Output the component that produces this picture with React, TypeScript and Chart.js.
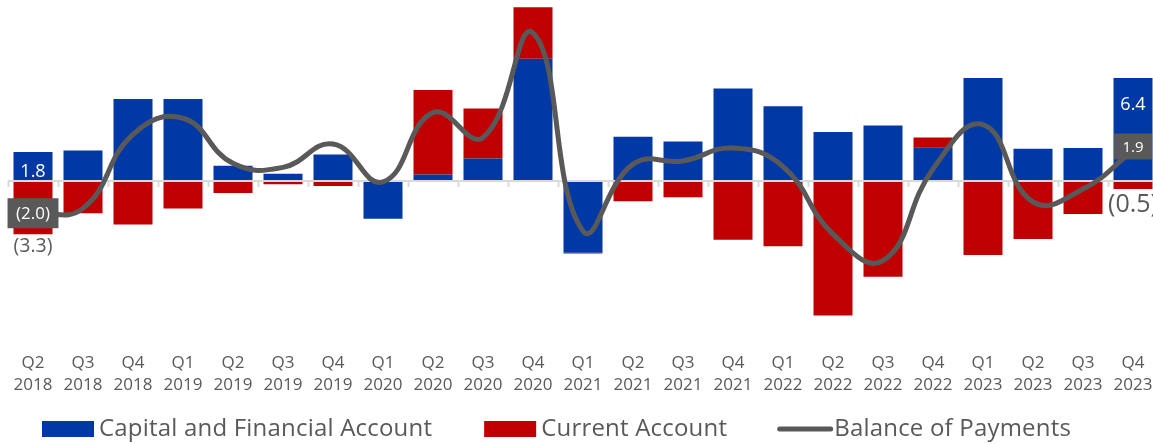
import React, { useEffect, useRef } from 'react';
import { Chart, registerables } from 'chart.js';

Chart.register(...registerables);

// ---- Data ----
const quarterLabels = ['Q2','Q3','Q4','Q1','Q2','Q3','Q4','Q1','Q2','Q3','Q4','Q1','Q2','Q3','Q4','Q1','Q2','Q3','Q4','Q1','Q2','Q3','Q4'];
const yearLabels = ['2018','2018','2018','2019','2019','2019','2019','2020','2020','2020','2020','2021','2021','2021','2021','2022','2022','2022','2022','2023','2023','2023','2023'];
const capitalFinancial = [1.8, 1.9, 5.1, 5.1, 0.95, 0.45, 1.65, -2.35, 0.4, 1.4, 7.6, -4.45, 2.75, 2.45, 5.75, 4.65, 3.05, 3.45, 2.1, 6.4, 2.0, 2.05, 6.4];
const currentAccount = [-3.3, -2.0, -2.7, -1.7, -0.75, -0.2, -0.3, 0.05, 5.25, 3.1, 3.2, -0.05, -1.25, -1.0, -3.65, -4.05, -8.35, -5.95, 0.6, -4.6, -3.6, -2.05, -0.5];
const balanceOfPayments = [-2.0, -1.7, 2.9, 3.9, 1.1, 0.85, 2.3, -0.05, 4.25, 2.7, 9.2, -3.1, 1.05, 1.25, 2.05, 0.9, -3.3, -4.95, 0.75, 3.5, -1.3, -0.5, 1.9];
const seriesNames = ['Capital and Financial Account', 'Current Account', 'Balance of Payments'];
const labelledIndices = [0, 22];

// ---- Styles ----
const BLUE = '#0039A6';
const RED = '#C00000';
const GRAY = '#595959';
const FONT = '"Open Sans", Lato, sans-serif';

const fmt = (v: number) => (v < 0 ? `(${Math.abs(v).toFixed(1)})` : v.toFixed(1));

const labelPlugin = {
  id: 'valueLabels',
  afterDatasetsDraw(chart: any) {
    const ctx = chart.ctx;
    ctx.save();
    ctx.textAlign = 'center';
    ctx.textBaseline = 'middle';
    // blue: inside end
    const m0 = chart.getDatasetMeta(0);
    const blueSizes = [18, 18];
    labelledIndices.forEach((idx, k) => {
      const el = m0.data[idx];
      const v = capitalFinancial[idx];
      const fs = blueSizes[k];
      ctx.font = `${fs}px ${FONT}`;
      ctx.fillStyle = '#ffffff';
      const cy = Math.min(el.y + 27, el.base - fs / 2);
      ctx.fillText(fmt(v), el.x, cy);
    });
    // red: outside end
    const m1 = chart.getDatasetMeta(1);
    const redSizes = [19.5, 25];
    labelledIndices.forEach((idx, k) => {
      const el = m1.data[idx];
      const v = currentAccount[idx];
      const fs = redSizes[k];
      ctx.font = `${fs}px ${FONT}`;
      ctx.fillStyle = GRAY;
      const cy = v < 0 ? el.y + fs / 2 + 3 : el.y - fs / 2 - 3;
      ctx.fillText(fmt(v), el.x, cy);
    });
    ctx.restore();
  },
  afterDraw(chart: any) {
    const ctx = chart.ctx;
    ctx.save();
    // line labels in boxes
    const m2 = chart.getDatasetMeta(2);
    const lineSizes = [17, 15];
    const lineDy = [0, -4];
    labelledIndices.forEach((idx, k) => {
      const pt = m2.data[idx];
      const fs = lineSizes[k];
      ctx.font = `${fs}px ${FONT}`;
      const txt = fmt(balanceOfPayments[idx]);
      const w = ctx.measureText(txt).width + 17;
      const h = Math.round(fs * 1.75);
      const cy = pt.y + lineDy[k];
      ctx.fillStyle = GRAY;
      ctx.fillRect(pt.x - w / 2, cy - h / 2, w, h);
      ctx.fillStyle = '#ffffff';
      ctx.textAlign = 'center';
      ctx.textBaseline = 'middle';
      ctx.fillText(txt, pt.x, cy + 1);
    });
    // legend
    const legendY = 429;
    let x = 42;
    ctx.font = `24px ${FONT}`;
    try { (ctx as any).letterSpacing = '0.2px'; } catch (e) { /* ignore */ }
    ctx.textAlign = 'left';
    ctx.textBaseline = 'middle';
    // item 1
    ctx.fillStyle = BLUE;
    ctx.fillRect(x, legendY - 8, 52, 16);
    x += 57;
    ctx.fillStyle = GRAY;
    ctx.fillText(seriesNames[0], x, legendY);
    x += ctx.measureText(seriesNames[0]).width + 52;
    // item 2
    ctx.fillStyle = RED;
    ctx.fillRect(x, legendY - 8, 52, 16);
    x += 57;
    ctx.fillStyle = GRAY;
    ctx.fillText(seriesNames[1], x, legendY);
    x += ctx.measureText(seriesNames[1]).width + 50;
    // item 3
    ctx.strokeStyle = GRAY;
    ctx.lineWidth = 5;
    ctx.lineCap = 'round';
    ctx.beginPath();
    ctx.moveTo(x + 2.5, legendY);
    ctx.lineTo(x + 53.5, legendY);
    ctx.stroke();
    x += 57;
    ctx.fillText(seriesNames[2], x, legendY);
    ctx.restore();
  },
  beforeDatasetDraw(chart: any, args: any) {
    if (args.index !== 2) return;
    const { ctx, chartArea, scales } = chart;
    const y0 = Math.round(scales.y.getPixelForValue(0));
    ctx.save();
    ctx.strokeStyle = '#d9d9d9';
    ctx.lineWidth = 2;
    ctx.beginPath();
    ctx.moveTo(chartArea.left, y0);
    ctx.lineTo(chartArea.right, y0);
    const n = quarterLabels.length;
    const step = (chartArea.right - chartArea.left) / n;
    for (let i = 0; i <= n; i++) {
      const tx = Math.round(chartArea.left + i * step) + 0.5;
      ctx.moveTo(tx, y0);
      ctx.lineTo(tx, y0 + 6);
    }
    ctx.stroke();
    ctx.restore();
  },
};

export default function App() {
  const canvasRef = useRef<HTMLCanvasElement | null>(null);

  useEffect(() => {
    if (!canvasRef.current) return;
    const labels = quarterLabels.map((q, i) => [q, yearLabels[i]]);
    const chart = new Chart(canvasRef.current, {
      type: 'bar',
      data: {
        labels,
        datasets: [
          {
            type: 'bar',
            label: seriesNames[0],
            data: capitalFinancial,
            backgroundColor: BLUE,
            stack: 'bars',
            order: 1,
            barPercentage: 0.78,
            categoryPercentage: 1,
          },
          {
            type: 'bar',
            label: seriesNames[1],
            data: currentAccount,
            backgroundColor: RED,
            stack: 'bars',
            order: 1,
            barPercentage: 0.78,
            categoryPercentage: 1,
          },
          {
            type: 'line',
            label: seriesNames[2],
            data: balanceOfPayments,
            borderColor: GRAY,
            borderWidth: 5,
            borderCapStyle: 'round',
            pointRadius: 0,
            tension: 0.45,
            stack: 'bop',
            order: 0,
            fill: false,
          } as any,
        ],
      },
      options: {
        animation: false,
        responsive: false,
        maintainAspectRatio: false,
        layout: { padding: { left: 8, right: 7, top: 4, bottom: 38 } },
        plugins: {
          legend: { display: false },
          tooltip: { enabled: false },
        },
        scales: {
          x: {
            stacked: true,
            grid: { display: false, drawTicks: false },
            border: { display: false },
            ticks: {
              color: GRAY,
              font: { family: FONT, size: 17, lineHeight: 22 / 17 },
              padding: 10,
              maxRotation: 0,
              autoSkip: false,
            },
          },
          y: {
            stacked: true,
            display: false,
            min: -10,
            max: 11,
          },
        },
      },
      plugins: [labelPlugin],
    });
    return () => chart.destroy();
  }, []);

  return (
    <div style={{ position: 'fixed', left: 0, top: 0, width: 1153, height: 444, overflow: 'hidden', background: '#fff' }}>
      <canvas ref={canvasRef} width={1165} height={444} style={{ display: 'block', width: 1165, height: 444 }} />
    </div>
  );
}
